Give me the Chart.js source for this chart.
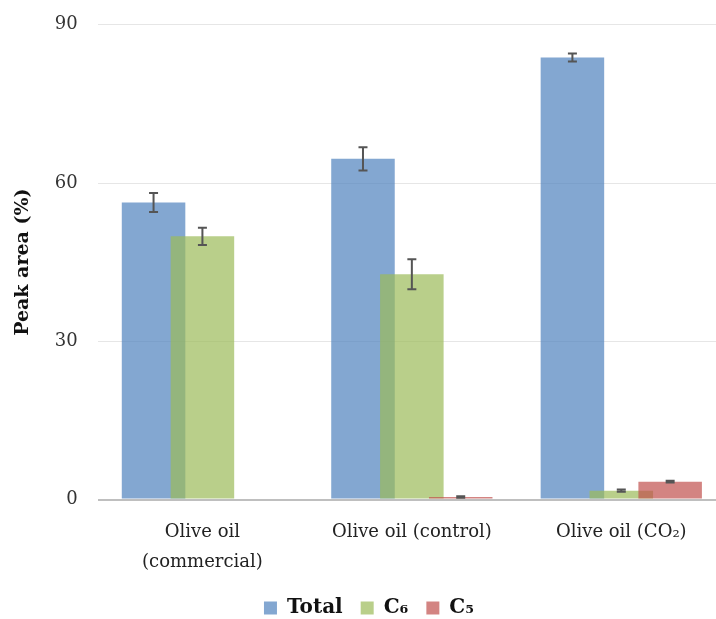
<!DOCTYPE html>
<html>
<head>
<meta charset="utf-8">
<script src="https://cdn.jsdelivr.net/npm/chart.js@4/dist/chart.umd.min.js"></script>
<style>
  html, body { margin: 0; padding: 0; background: #fff; overflow: hidden; }
  #wrap { position: relative; width: 726px; height: 625px; margin-top: -6px; }
</style>
</head>
<body>
<div id="wrap"><canvas id="myChart"></canvas></div>
<script>
const labels = [['Olive oil', '(commercial)'], 'Olive oil (control)', 'Olive oil (CO\u2082)'];
const totalValues = [56.3, 64.6, 83.8];
const totalErrors = [1.8, 2.2, 0.75];
const c6Values = [49.9, 42.7, 1.7];
const c6Errors = [1.65, 2.85, 0.2];
const c5Values = [0, 0.5, 3.4];
const c5Errors = [0, 0.15, 0.15];
const yTicks = [0, 30, 60, 90];

const SERIF = '"DejaVu Serif", "Liberation Serif", serif';

const data = {
  labels: labels,
  datasets: [
    {
      label: 'Total',
      data: totalValues,
      errors: totalErrors,
      backgroundColor: 'rgba(79, 129, 189, 0.7)',
    },
    {
      label: 'C\u2086',
      data: c6Values,
      errors: c6Errors,
      backgroundColor: 'rgba(155, 187, 89, 0.7)',
    },
    {
      label: 'C\u2085',
      data: c5Values,
      errors: c5Errors,
      backgroundColor: 'rgba(192, 80, 77, 0.7)',
    },
  ],
};

// later series sit on top of earlier ones (overlapping bars)
const drawOrder = {
  id: 'drawOrder',
  beforeDatasetsDraw(chart) {
    for (let i = 0; i < chart.data.datasets.length; i++) {
      const meta = chart.getDatasetMeta(i);
      if (meta.visible) meta.controller.draw();
    }
    return false;
  },
};

// wide gaps between legend items but a short legend box
const legendSpacing = {
  id: 'legendSpacing',
  afterInit(chart) {
    const lg = chart.legend;
    if (!lg) return;
    const fit = lg.fit;
    lg.fit = function() {
      fit.call(this);
      this.height -= 16;
    };
    const draw = lg.draw;
    lg.draw = function() {
      this.top -= 7;
      draw.call(this);
      this.top += 7;
    };
  },
};

const errorBars = {
  id: 'errorBars',
  afterDraw(chart) {
    const ctx = chart.ctx;
    const y = chart.scales.y;
    ctx.save();
    ctx.strokeStyle = '#555';
    ctx.lineWidth = 2;
    chart.data.datasets.forEach((ds, i) => {
      const meta = chart.getDatasetMeta(i);
      if (!meta.visible) return;
      meta.data.forEach((bar, j) => {
        const v = ds.data[j];
        const e = ds.errors[j];
        if (!v) return;
        const top = y.getPixelForValue(v + e);
        const bot = y.getPixelForValue(v - e);
        const x = bar.x;
        ctx.beginPath();
        ctx.moveTo(x, top);
        ctx.lineTo(x, bot);
        ctx.moveTo(x - 4.5, top);
        ctx.lineTo(x + 4.5, top);
        ctx.moveTo(x - 4.5, bot);
        ctx.lineTo(x + 4.5, bot);
        ctx.stroke();
      });
    });
    ctx.restore();
  },
};

const config = {
  type: 'bar',
  data: data,
  options: {
    responsive: true,
    maintainAspectRatio: false,
    animation: false,
    datasets: {
      bar: {
        categoryPercentage: 0.7,
        barPercentage: 1.3,
      },
    },
    layout: {
      padding: {top: 0, left: 12, right: 0, bottom: 0},
    },
    scales: {
      x: {
        grid: {display: false},
        border: {display: false},
        ticks: {
          color: '#222',
          font: {family: SERIF, size: 18, lineHeight: 1.65},
          padding: 10,
          maxRotation: 0,
        },
      },
      y: {
        min: 0,
        max: 90,
        afterBuildTicks(axis) {
          axis.ticks = yTicks.map((v) => ({value: v}));
        },
        border: {display: false},
        grid: {
          color: (c) => (c.tick.value === 0 ? '#bfbfbf' : '#e6e6e6'),
          lineWidth: (c) => (c.tick.value === 0 ? 2 : 1),
          drawTicks: false,
        },
        ticks: {
          color: '#333',
          font: {family: SERIF, size: 18},
          padding: 20,
        },
        title: {
          display: true,
          text: 'Peak area (%)',
          color: '#111',
          font: {family: SERIF, size: 19, weight: 'bold'},
          padding: {top: 0, bottom: 0},
        },
      },
    },
    plugins: {
      legend: {
        position: 'bottom',
        labels: {
          boxWidth: 13,
          boxHeight: 13,
          padding: 18,
          color: '#111',
          font: {family: SERIF, size: 20, weight: 'bold'},
        },
      },
      tooltip: {enabled: false},
    },
  },
  plugins: [drawOrder, errorBars, legendSpacing],
};

const myChart = new Chart(document.getElementById('myChart'), config);
</script>
</body>
</html>
